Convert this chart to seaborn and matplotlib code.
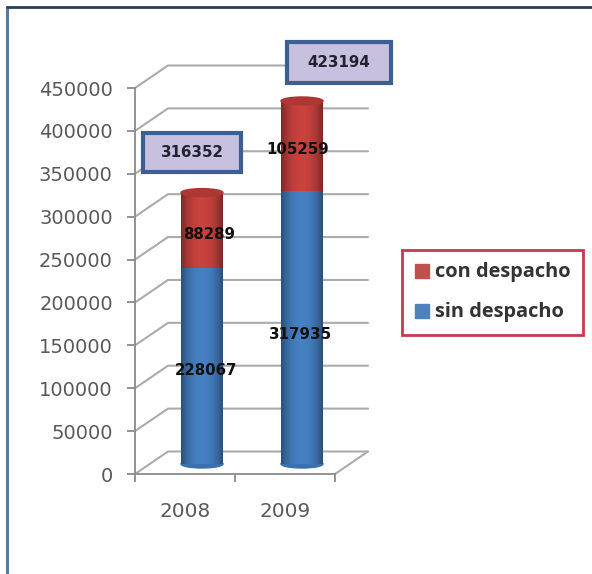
import numpy as np
import matplotlib
matplotlib.use("Agg")
import matplotlib.pyplot as plt
from matplotlib.lines import Line2D
from matplotlib.patches import Ellipse, Patch, Rectangle
import pandas as pd
import seaborn as sns

years = ["2008", "2009"]
sin_despacho = [228067, 317935]
con_despacho = [88289, 105259]
totales = [316352, 423194]
yticks = list(range(0, 450001, 50000))

W, H = 592, 574
GRID = "#ababab"
AXIS = "#8a8a8a"
TXT = "#595959"
BLUE = "#4580c2"
RED = "#c8423e"

sns.set_theme(style="white")
plt.rcParams["font.family"] = ["DejaVu Sans"]

fig = plt.figure(figsize=(W / 100, H / 100), dpi=100, facecolor="white")


def rect(x0, x1, ytop, ybot):
    return [x0 / W, 1 - ybot / H, (x1 - x0) / W, (ybot - ytop) / H]


# front plane: axis and ticks
ax = fig.add_axes(rect(135, 335, 88, 474))
ax.set_xlim(-0.5, 1.5)
ax.set_ylim(0, 450000)
ax.patch.set_alpha(0)
for s in ["top", "right"]:
    ax.spines[s].set_visible(False)
for s in ["left", "bottom"]:
    ax.spines[s].set_color(AXIS)
    ax.spines[s].set_linewidth(1.3)
ax.set_yticks(yticks)
ax.set_yticklabels([str(v) for v in yticks])
ax.tick_params(axis="y", left=True, length=6, width=1.3, color=AXIS, labelsize=14,
               labelcolor=TXT, pad=10)
ax.set_xticks([-0.5, 0.5, 1.5])
ax.set_xticklabels([])
ax.tick_params(axis="x", which="major", bottom=True, length=6, width=1.3, color=AXIS)
ax.set_xticks([0, 1], labels=years, minor=True)
ax.tick_params(axis="x", which="minor", bottom=False, length=0, labelsize=14.4,
               labelcolor=TXT, pad=20)

# depth of the 3-D box, as an offset on the front plane
px_x = 200 / 2
px_y = 386 / 450000
dx, dy = 33 / px_x, 22.5 / px_y
for v in yticks:
    ax.plot([-0.5, -0.5 + dx, 1.5 + dx], [v, v + dy, v + dy], color=GRID, lw=1.5,
            clip_on=False, zorder=1, solid_joinstyle="miter")
ax.plot([1.5, 1.5 + dx], [0, dy], color=GRID, lw=1.5, clip_on=False, zorder=1)

# bar plane: same scales, shifted into the depth of the box
bx = fig.add_axes(rect(152, 352, 78, 464))
bx.patch.set_alpha(0)
df = pd.DataFrame({"anio": years, "sin": sin_despacho, "con": con_despacho})
sns.barplot(data=df, x="anio", y="sin", color=BLUE, width=0.42, saturation=1, ax=bx, zorder=3,
            linewidth=0)
sin_bars = list(bx.patches)
sns.barplot(data=df, x="anio", y="con", bottom=df["sin"].to_numpy(), color=RED, width=0.42,
            saturation=1, ax=bx, zorder=3, linewidth=0)
con_bars = list(bx.patches)[len(sin_bars):]
bx.set_xlim(-0.5, 1.5)
bx.set_ylim(0, 450000)
bx.axis("off")

# cylinder caps
eh = 8 / px_y
for b in sin_bars:
    bx.add_patch(Ellipse((b.get_x() + b.get_width() / 2, 0), b.get_width(), eh,
                         color="#3a70b0", zorder=2.9, clip_on=False))
for b in con_bars:
    bx.add_patch(Ellipse((b.get_x() + b.get_width() / 2, b.get_y() + b.get_height()),
                         b.get_width(), eh, color="#ad3733", zorder=4.5, clip_on=False))

# cylinder shading
t = np.linspace(0, 1, 64)
shade = np.zeros((1, 64, 4))
shade[0, :, 3] = np.clip(np.abs(t - 0.5) / 0.5, 0, 1) ** 2.2 * 0.38
for b in sin_bars + con_bars:
    x0, w, y0, h = b.get_x(), b.get_width(), b.get_y(), b.get_height()
    bx.imshow(shade, extent=(x0, x0 + w, y0, y0 + h), aspect="auto", zorder=4,
              interpolation="bilinear")
bx.set_xlim(-0.5, 1.5)
bx.set_ylim(0, 450000)

# value labels
nudges = [[(4, -4), (-2, -7)], [(7, -4), (-4, -3)]]
for cont, vals, nudge in zip(bx.containers, (sin_despacho, con_despacho), nudges):
    labels = bx.bar_label(cont, labels=[str(v) for v in vals], label_type="center",
                          fontsize=10.8, fontweight="bold", color="#111111", zorder=6)
    for lab, (ox, oy) in zip(labels, nudge):
        lab.xyann = (ox * 0.72, oy * 0.72)

# total boxes
box_px = [(143, 241, 133, 172), (287, 391, 42, 83)]
for (x0, x1, y0, y1), v in zip(box_px, totales):
    fig.add_artist(Rectangle((x0 / W, 1 - y1 / H), (x1 - x0) / W, (y1 - y0) / H,
                             transform=fig.transFigure, facecolor="#c7c0de",
                             edgecolor="#3d5f92", linewidth=3, zorder=5))
    fig.text((x0 + x1) / 2 / W, 1 - (y0 + y1) / 2 / H, str(v), ha="center", va="center",
             fontsize=10.8, fontweight="bold", color="#222233", zorder=6)

# legend
handles = [Patch(color="#c0504d", label="con despacho"), Patch(color="#4f81bd", label="sin despacho")]
leg = fig.legend(handles=handles, loc="center", bbox_to_anchor=(492.5 / W, 1 - 292.5 / H),
                 frameon=True, fancybox=False, edgecolor="#c8384f", framealpha=1,
                 handlelength=0.7, handleheight=0.7, handletextpad=0.3, labelspacing=1.0,
                 borderpad=0.62, borderaxespad=0,
                 prop={"family": "Open Sans", "weight": "bold", "size": 14.4})
leg.get_frame().set_linewidth(2)
for tx in leg.get_texts():
    tx.set_color("#333333")

# outer frame of the picture
fig.add_artist(Line2D([6.5 / W, 6.5 / W], [0, 1 - 6.5 / H], transform=fig.transFigure,
                      color="#5a7a9c", lw=2.2))
fig.add_artist(Line2D([6.5 / W, 1], [1 - 6.5 / H, 1 - 6.5 / H], transform=fig.transFigure,
                      color="#27405c", lw=2))

fig.savefig("out.png", dpi=100)
